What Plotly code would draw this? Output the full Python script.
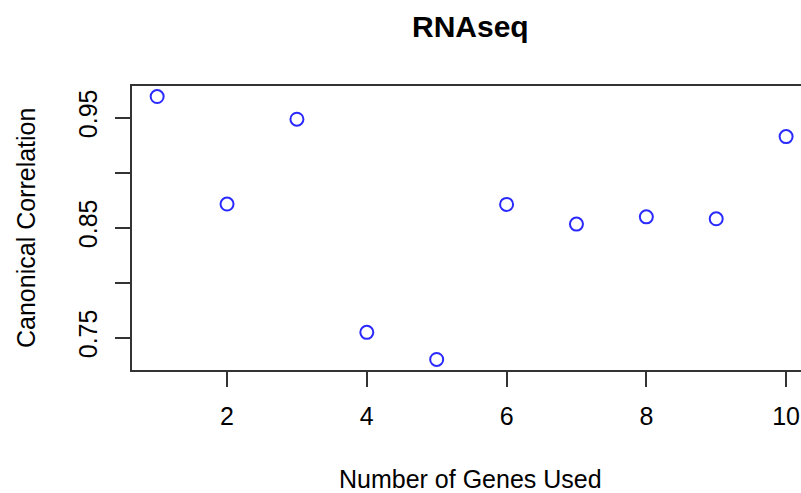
import plotly.graph_objects as go

genes = [1, 2, 3, 4, 5, 6, 7, 8, 9, 10]
cancor = [0.9691, 0.8714, 0.9485, 0.7548, 0.7302, 0.8711, 0.8532, 0.8598, 0.8580, 0.9327]
x_ticks = [2, 4, 6, 8, 10]
y_ticks = [0.75, 0.80, 0.85, 0.90, 0.95]
y_ticktext = ["0.75", "", "0.85", "", "0.95"]

FONT = "Liberation Sans, Arial, Helvetica, sans-serif"
LINE = "#333333"

fig = go.Figure()
fig.add_trace(go.Scatter(
    x=genes, y=cancor, mode="markers",
    marker=dict(symbol="circle-open", size=13, color="#2a2aff", line=dict(width=2, color="#2a2aff")),
    showlegend=False, hoverinfo="x+y",
))

fig.update_layout(
    width=801, height=493,
    margin=dict(l=132, r=0, t=86, b=123),
    paper_bgcolor="white", plot_bgcolor="white",
    font=dict(family=FONT, size=25, color="black"),
    xaxis=dict(
        range=[0.64, 10.213], tickmode="array", tickvals=x_ticks,
        ticks="outside", ticklen=15, tickwidth=2, tickcolor=LINE,
        showline=True, linecolor=LINE, linewidth=2, mirror=True,
        showgrid=False, zeroline=False,
        tickfont=dict(family=FONT, size=25, color="black"),
        ticklabelstandoff=8,
    ),
    yaxis=dict(
        range=[0.7206, 0.9787], tickmode="array", tickvals=y_ticks, ticktext=y_ticktext,
        ticks="outside", ticklen=15, tickwidth=2, tickcolor=LINE,
        showline=True, linecolor=LINE, linewidth=2, mirror=False,
        showgrid=False, zeroline=False, tickangle=-90,
        tickfont=dict(family=FONT, size=25, color="black"),
        ticklabelstandoff=8,
    ),
    annotations=[
        dict(text="<b>RNAseq</b>", xref="paper", yref="paper", x=0.5067, y=1+(86-26)/284,
             xanchor="center", yanchor="middle", showarrow=False,
             font=dict(family=FONT, size=30, color="black")),
        dict(text="Number of Genes Used", xref="paper", yref="paper", x=0.5067, y=-(479-370)/284,
             xanchor="center", yanchor="middle", showarrow=False,
             font=dict(family=FONT, size=25, color="black")),
        dict(text="Canonical Correlation", xref="paper", yref="paper", x=-(132-26)/669, y=0.5,
             xanchor="center", yanchor="middle", showarrow=False, textangle=-90,
             font=dict(family=FONT, size=25, color="black")),
    ],
)

fig.write_html(
    "out.html",
    config={"displayModeBar": False},
    post_script="document.body.style.margin='0';document.body.style.overflow='hidden';",
)
